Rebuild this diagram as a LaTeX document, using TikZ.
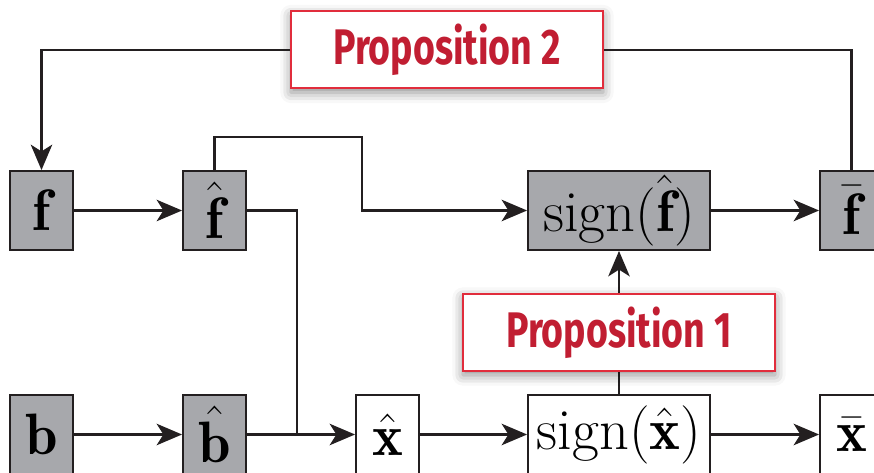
\documentclass[tikz,border=0pt]{standalone}
\usepackage{graphicx}
\usepackage{fontspec}
\usetikzlibrary{arrows.meta,shadows.blur}
\newfontfamily\propfont[FakeStretch=0.75]{Fira Sans}
\newcommand\mybigmath[1]{\scalebox{1.76}{#1}}
\definecolor{boxgray}{RGB}{167,168,172}
\definecolor{ink}{RGB}{35,31,32}
\definecolor{propred}{RGB}{193,30,50}
\definecolor{propborder}{RGB}{225,45,60}
\tikzset{
  blk/.style={draw=ink, line width=1.4pt, fill=boxgray, minimum width=47.25pt, minimum height=59.25pt, inner sep=0pt, font=\Huge},
  wblk/.style={blk, fill=white},
  wide/.style={minimum width=136.5pt},
  prop/.style={draw=propborder, line width=1.5pt, fill=white, minimum width=234pt, minimum height=57.75pt, inner sep=0pt, text=propred, font=\propfont\bfseries\fontsize{37.5}{40}\selectfont, blur shadow={shadow xshift=0pt, shadow yshift=-3pt, shadow blur radius=8pt, shadow opacity=45}},
  conn/.style={draw=ink, line width=2.2pt},
  arr/.style={conn, -{Stealth[length=19pt,width=16pt,inset=5pt]}}
}
\begin{document}
\begin{tikzpicture}[x=0.75pt,y=-0.75pt]
\useasboundingbox (0,0) rectangle (874,473);
\clip (0,0) rectangle (874,473);
% top row
\node[blk] (f) at (41.5,210.5) {\mybigmath{$\mathbf{f}$}};
\node[blk] (fh) at (214.5,210.5) {\mybigmath{$\hat{\mathbf{f}}$}};
\node[blk,wide] (sf) at (619,210.5) {\mybigmath{$\mathrm{sign}(\hat{\mathbf{f}})$}};
\node[blk] (fb) at (851.5,210.5) {\mybigmath{$\bar{\mathbf{f}}$}};
% bottom row
\node[blk] (b) at (41.5,434.5) {\mybigmath{$\mathbf{b}$}};
\node[blk] (bh) at (214.5,434.5) {\mybigmath{$\hat{\mathbf{b}}$}};
\node[wblk] (xh) at (387.5,434.5) {\mybigmath{$\hat{\mathbf{x}}$}};
\node[wblk,wide] (sx) at (619,434.5) {\mybigmath{$\mathrm{sign}(\hat{\mathbf{x}})$}};
\node[wblk] (xb) at (851.5,434.5) {\mybigmath{$\bar{\mathbf{x}}$}};
\coordinate (j) at (297,434.5);
\coordinate (k) at (362,137);
% connectors
\draw[arr] (f) -- (fh);
\draw[arr] (sf) -- (fb);
\draw[arr] (b) -- (bh);
\draw[arr] (bh) -- (xh);
\draw[arr] (xh) -- (sx);
\draw[arr] (sx) -- (xb);
\draw[conn] (fh.east) -| (j);
\draw[arr] (fh.north) |- (k) |- (sf.west);
\draw[arr] (sx.north) -- (sf.south);
% propositions
\node[prop] (p1) at (619,332.5) {Proposition 1};
\node[prop] (p2) at (447,50) {Proposition 2};
\draw[arr] (p2.west) -| (f.north);
\draw[conn] (p2.east) -| (fb.north);
\end{tikzpicture}
\end{document}
